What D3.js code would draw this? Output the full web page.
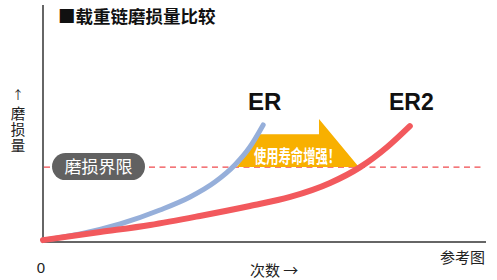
<!DOCTYPE html>
<html><head><meta charset="utf-8">
<script src="https://cdn.jsdelivr.net/npm/d3@7"></script>
<style>body{margin:0;background:#fff}svg{display:block}</style>
</head><body>
<svg id="c" width="497" height="280"></svg>
<script>
// data (abstract units: x = usage count, y = wear)
const erX  = [0, 8.4, 17.4, 26.4, 33.2, 38.8, 43.3, 46.7, 49.7];
const erY  = [0.8, 3.4, 7.6, 13.5, 19.0, 25.3, 32.5, 40.1, 49.4];
const er2X = [0, 12.9, 24.2, 35.4, 46.7, 55.8, 64.8, 71.6, 77.7, 82.8];
const er2Y = [0.8, 4.2, 7.2, 11.0, 15.2, 19.0, 24.9, 31.6, 40.1, 48.9];
const limitY = 31.6;
const seriesNames = ["ER", "ER2"];
const title = "■载重链磨损量比较";
const yArrow = "↑";
const yLabel = "磨损量";
const xLabel = "次数 →";
const limitLabel = "磨损界限";
const arrowLabel = "使用寿命增强！";
const originLabel = "0";
const noteLabel = "参考图";
// arrow extents in data units
const arrowStartX = 43.8, arrowHeadX = 62.3, arrowTipX = 71.3;
const arrowBodyTop = 45.5, arrowHeadTop = 51.9;

const svg = d3.select("#c");
const x = d3.scaleLinear().domain([0, 100]).range([43, 486]);
const y = d3.scaleLinear().domain([0, 100]).range([242, 5]);
const cjk = "'Noto Sans CJK SC','Noto Sans CJK JP',sans-serif";
const lat = "'Liberation Sans',Arial,sans-serif";

// limit dashed line
svg.append("line")
  .attr("x1", x(0)+1).attr("x2", x(99)).attr("y1", y(limitY)).attr("y2", y(limitY))
  .attr("stroke", "#f04a4e").attr("stroke-width", 1.3).attr("stroke-dasharray", "6,4.5");

// axes
svg.append("line").attr("x1", x(0)).attr("x2", x(0)).attr("y1", y(100)).attr("y2", y(0)+1)
  .attr("stroke", "#666").attr("stroke-width", 2);
svg.append("line").attr("x1", x(0)-1).attr("x2", x(100)).attr("y1", y(0)).attr("y2", y(0))
  .attr("stroke", "#666").attr("stroke-width", 2);

// arrow
const poly = [
  [x(arrowStartX), y(limitY)],
  [x(arrowStartX) + 21, y(arrowBodyTop)],
  [x(arrowHeadX), y(arrowBodyTop)],
  [x(arrowHeadX), y(arrowHeadTop)],
  [x(arrowTipX), y(limitY)]
];
svg.append("polygon").attr("points", poly.map(p => p.join(",")).join(" "))
  .attr("fill", "#f8b000");

const line = d3.line().x(d => x(d[0])).y(d => y(d[1])).curve(d3.curveMonotoneX);
svg.append("path").datum(erX.map((v,i)=>[v, erY[i]])).attr("d", line)
  .attr("fill", "none").attr("stroke", "#96afda").attr("stroke-width", 5).attr("stroke-linecap", "round");
svg.append("path").datum(er2X.map((v,i)=>[v, er2Y[i]])).attr("d", line)
  .attr("fill", "none").attr("stroke", "#f2595d").attr("stroke-width", 6).attr("stroke-linecap", "round");

svg.append("text").text(arrowLabel)
  .attr("x", 254).attr("y", 163)
  .attr("textLength", 86).attr("lengthAdjust", "spacingAndGlyphs")
  .attr("font-family", cjk).attr("font-weight", "bold").attr("font-size", 18.5).attr("fill", "#fff");

// limit label
svg.append("rect").attr("x", 52).attr("y", y(limitY)-14).attr("width", 93).attr("height", 27)
  .attr("rx", 13.5).attr("fill", "#616161");
svg.append("text").text(limitLabel).attr("x", 98.5).attr("y", y(limitY)+6)
  .attr("text-anchor", "middle").attr("font-family", cjk).attr("font-size", 17).attr("fill", "#fff");

// series labels
svg.append("text").text(seriesNames[0]).attr("x", 248).attr("y", 110)
  .attr("font-family", lat).attr("font-weight", "bold").attr("font-size", 24).attr("fill", "#111");
svg.append("text").text(seriesNames[1]).attr("x", 389).attr("y", 110)
  .attr("font-family", lat).attr("font-weight", "bold").attr("font-size", 23).attr("fill", "#111");

// title
svg.append("text").text(title).attr("x", 58).attr("y", 23)
  .attr("font-family", cjk).attr("font-weight", "bold").attr("font-size", 17.5).attr("fill", "#111");

// y label
svg.append("text").text(yArrow).attr("x", 18).attr("y", 100)
  .attr("text-anchor", "middle").attr("font-family", cjk).attr("font-size", 12).attr("fill", "#222");
svg.append("text").text(yLabel).attr("x", 18).attr("y", 106)
  .style("writing-mode", "vertical-rl").attr("letter-spacing", 1.5)
  .attr("font-family", cjk).attr("font-size", 14.5).attr("fill", "#222");

// x labels
svg.append("text").text(originLabel).attr("x", 41).attr("y", 273)
  .attr("text-anchor", "middle").attr("font-family", lat).attr("font-size", 15).attr("fill", "#222");
svg.append("text").text(xLabel).attr("x", 250).attr("y", 276)
  .attr("font-family", cjk).attr("font-size", 15).attr("fill", "#222");
svg.append("text").text(noteLabel).attr("x", 485).attr("y", 263)
  .attr("text-anchor", "end").attr("font-family", cjk).attr("font-size", 15).attr("fill", "#222");
</script>
</body></html>
